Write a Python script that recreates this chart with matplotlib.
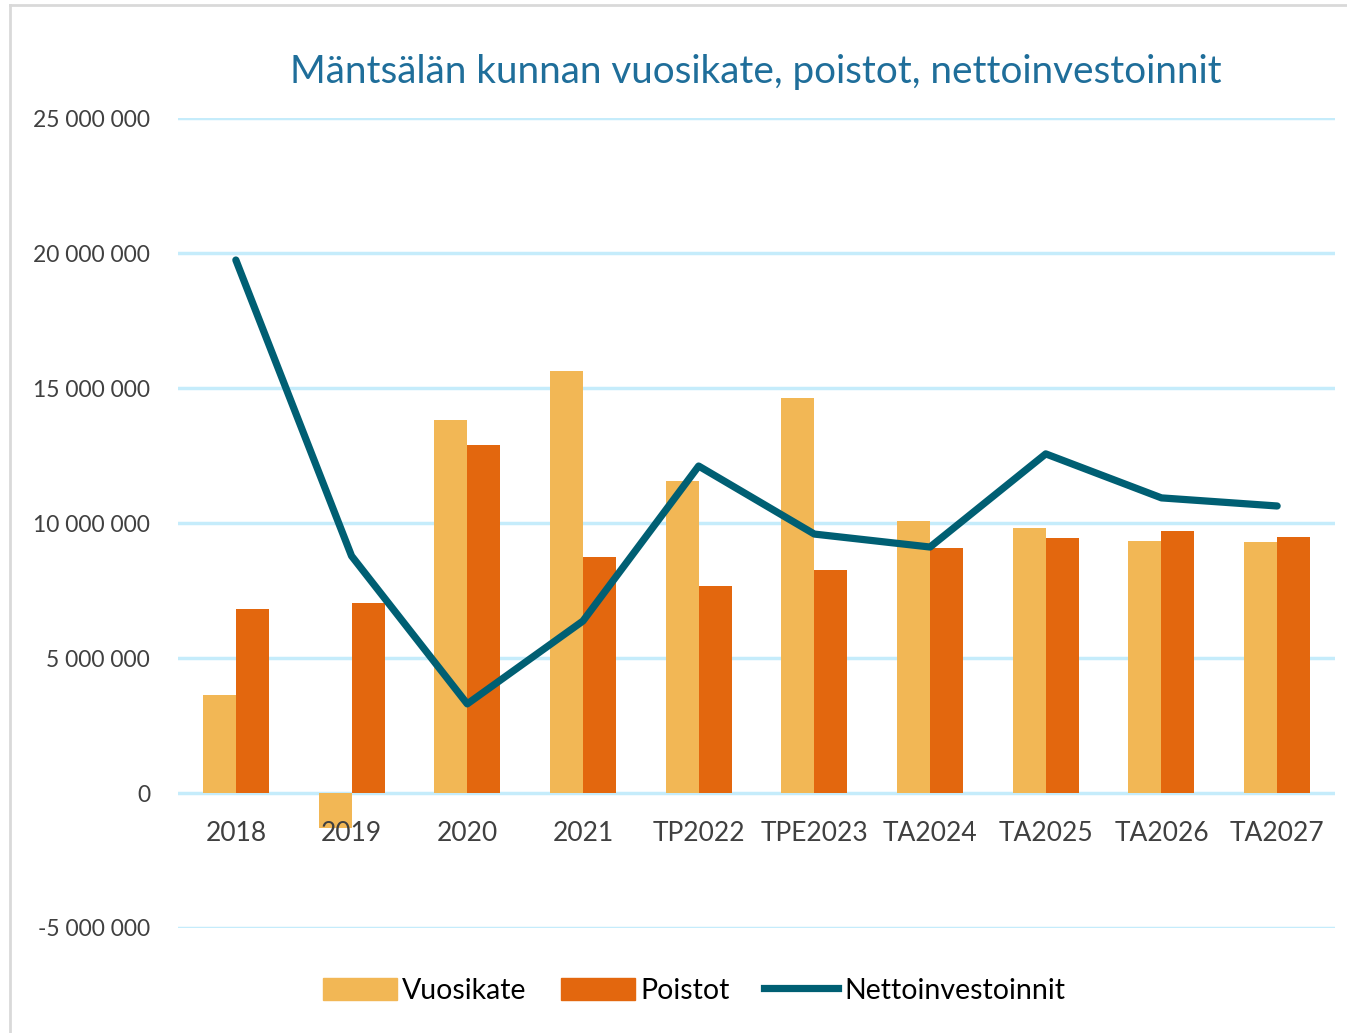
import numpy as np
import matplotlib.pyplot as plt
from matplotlib.ticker import FuncFormatter
from matplotlib.lines import Line2D
from matplotlib.patches import Patch

plt.rcParams['font.family'] = ['Lato', 'DejaVu Sans']

# Data
categories = ["2018", "2019", "2020", "2021", "TP2022", "TPE2023",
              "TA2024", "TA2025", "TA2026", "TA2027"]
vuosikate = [3.63e6, -1.30e6, 13.81e6, 15.63e6, 11.56e6, 14.63e6,
             10.07e6, 9.81e6, 9.33e6, 9.30e6]
poistot = [6.81e6, 7.04e6, 12.89e6, 8.74e6, 7.67e6, 8.26e6,
           9.07e6, 9.44e6, 9.70e6, 9.48e6]
netto = [19.74e6, 8.78e6, 3.30e6, 6.37e6, 12.11e6, 9.59e6,
         9.11e6, 12.56e6, 10.93e6, 10.63e6]

c_vuosi = '#F2B755'
c_poist = '#E3670E'
c_netto = '#005F73'
c_grid = '#C5ECFB'
c_title = '#1F6E9A'

fig = plt.figure(figsize=(13.47, 10.33), dpi=100)
ax = fig.add_axes([178/1347, 1-928/1033, (1335-178)/1347, (928-118)/1033])

x = np.arange(len(categories))
w = 0.285
ax.bar(x - w/2, vuosikate, w, color=c_vuosi, zorder=2)
ax.bar(x + w/2, poistot, w, color=c_poist, zorder=2)
ax.plot(x, netto, color=c_netto, lw=5.2, solid_capstyle='round',
        solid_joinstyle='round', zorder=3)

ax.set_xlim(-0.5, len(categories) - 0.5)
ax.set_ylim(-5e6, 25e6)
ax.set_yticks(np.arange(-5e6, 25e6 + 1, 5e6))
ax.yaxis.set_major_formatter(FuncFormatter(
    lambda v, p: f"{int(v):,}".replace(",", " ")))
ax.grid(axis='y', color=c_grid, lw=2.5, zorder=0)
ax.set_axisbelow(True)
for s in ax.spines.values():
    s.set_visible(False)
ax.tick_params(axis='y', length=0, labelsize=16.5, colors='#404040', pad=20)

# category labels just below the zero line
ax.set_xticks([])
for i, c in enumerate(categories):
    ax.text(i, -1.05e6, c, ha='center', va='top', fontsize=19, color='#404040')

fig.text(0.561, 0.93, "Mäntsälän kunnan vuosikate, poistot, nettoinvestoinnit",
         ha='center', va='center', fontsize=27.8, color=c_title)

handles = [Patch(color=c_vuosi, label='Vuosikate'),
           Patch(color=c_poist, label='Poistot'),
           Line2D([], [], color=c_netto, lw=5.2, label='Nettoinvestoinnit')]
fig.legend(handles=handles, loc='center', bbox_to_anchor=(0.515, 0.041),
           ncol=3, frameon=False, fontsize=20.5, handlelength=2.6,
           handleheight=0.8, handletextpad=0.2, columnspacing=1.2)

# frame lines of the screenshot
fig.add_artist(Line2D([10/1347, 10/1347], [0, 1-5/1033], color='#D9D9D9', lw=2))
fig.add_artist(Line2D([10/1347, 1], [1-5/1033, 1-5/1033], color='#D9D9D9', lw=2))

fig.savefig('out.png', dpi=100)
